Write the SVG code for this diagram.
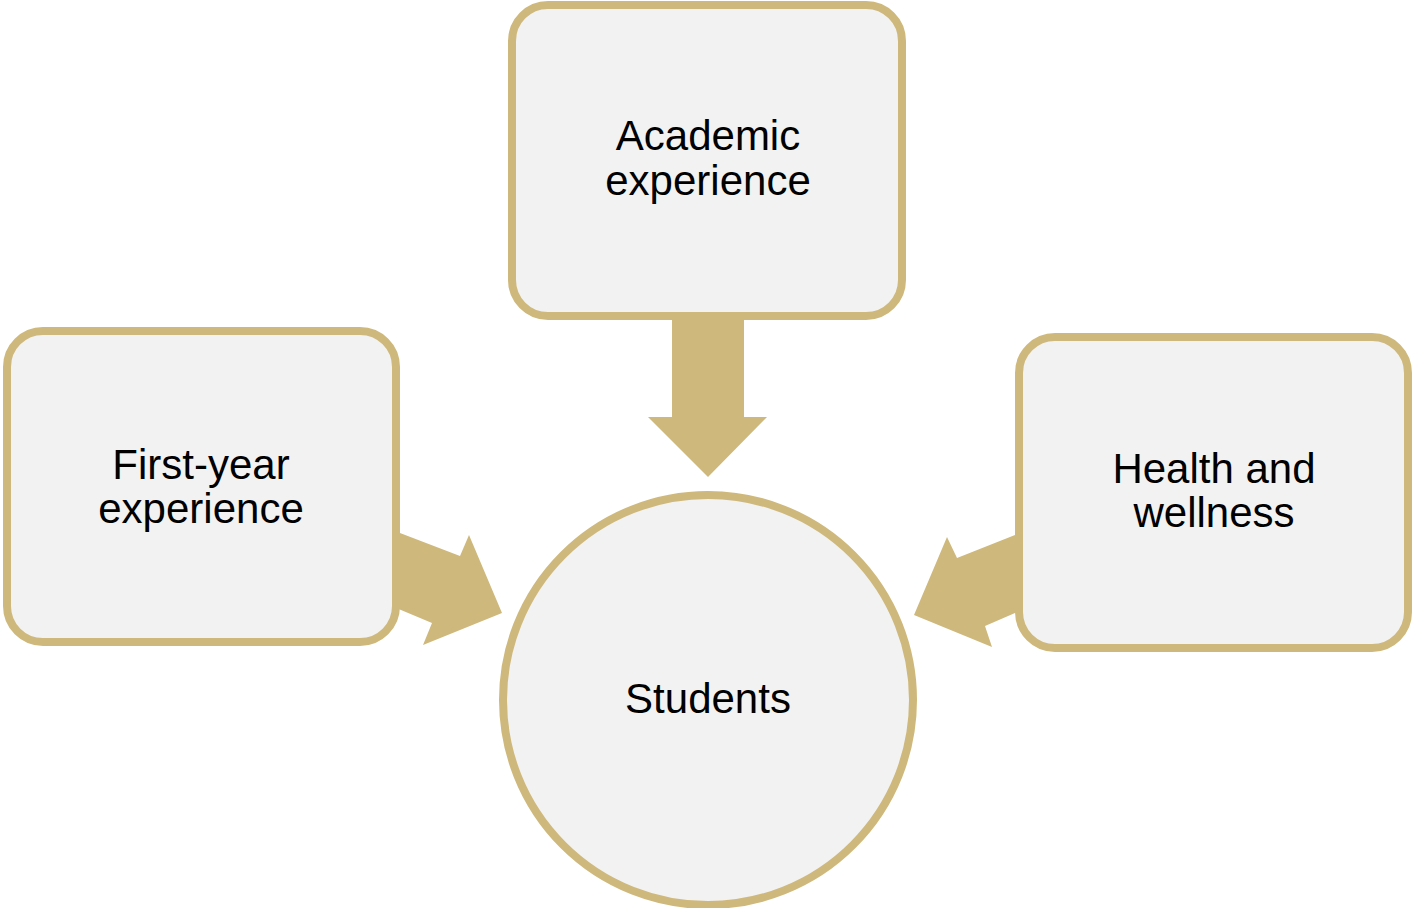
<svg xmlns="http://www.w3.org/2000/svg" width="1415" height="908" viewBox="0 0 1415 908">
<style>
.box{fill:#F2F2F2;stroke:#CFB87C;stroke-width:8}
.arr{fill:#CFB87C}
text{font-family:"Liberation Sans",Arial,sans-serif;font-size:42px;fill:#000;text-anchor:middle}
</style>
<rect width="1415" height="908" fill="#FFFFFF"/>
<g id="connectors">
<polygon class="arr" points="672,300 744,300 744,417 767,417 708,477 648,417 672,417"/>
<polygon class="arr" points="372,522 400,533 460,556 469,535 502,613 423,645 432,623 401,610 373,599"/>
<polygon class="arr" points="1043,524 1015,535 957,558 947,537 914,615 992,647 985,626 1015,613 1043,602"/>
</g>
<g id="academic">
<rect class="box" x="512" y="5" width="390" height="311" rx="36"/>
<text x="708" y="150">Academic</text>
<text x="708" y="195">experience</text>
</g>
<g id="firstyear">
<rect class="box" x="7" y="331" width="389" height="311" rx="36"/>
<text x="201" y="479">First-year</text>
<text x="201" y="523">experience</text>
</g>
<g id="health">
<rect class="box" x="1019" y="337" width="389" height="311" rx="36"/>
<text x="1214" y="483">Health and</text>
<text x="1214" y="527">wellness</text>
</g>
<g id="students">
<circle class="box" cx="708" cy="700" r="205"/>
<text x="708" y="713">Students</text>
</g>
</svg>
